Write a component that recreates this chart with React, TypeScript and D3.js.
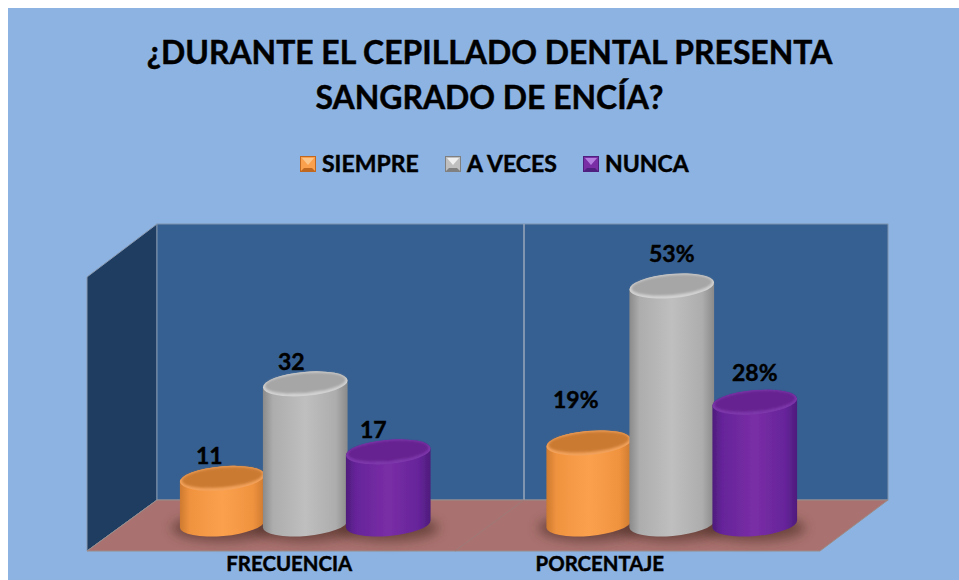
import React from "react";
import * as d3 from "d3";

const categories = ["FRECUENCIA", "PORCENTAJE"];
const seriesNames = ["SIEMPRE", "A VECES", "NUNCA"];
const siempre = [11, 19];
const aVeces = [32, 53];
const nunca = [17, 28];
const labelSuffix = ["", "%"];
const titleLines = ["¿DURANTE EL CEPILLADO DENTAL PRESENTA", "SANGRADO DE ENCÍA?"];

const font = "Lato, Carlito, Calibri, sans-serif";
const seriesValues = [siempre, aVeces, nunca];
const palettes = [
  { id: "o", edge: "#cd7a30", soft: "#f0933f", mid: "#fba14e", top: "#cb7a33", rim: "#f3a25c", light: "#fcc68a", dark: "#c0681f" },
  { id: "g", edge: "#8a8a8a", soft: "#adadad", mid: "#bfbfbf", top: "#a6a6a6", rim: "#d2d2d2", light: "#f0f0f0", dark: "#808080" },
  { id: "p", edge: "#4e1c7c", soft: "#66249a", mid: "#7a2ea6", top: "#662090", rim: "#7d38aa", light: "#b47ee0", dark: "#4f1f80" },
];
// label offsets from the top of each column, [dx, dy]
const labelNudge = [
  [[-13, -2], [-13, -23]],
  [[-14, -2], [0, -12]],
  [[-15, -2], [0, -9]],
];
const categoryLabelShift = [-16, -72];
const legendX = [300, 445, 583];

const W = 959, H = 580;
const x0 = d3.scaleBand<string>().domain(categories).range([122, 855]);
const x1 = d3.scaleBand<string>().domain(seriesNames).range([58.75, 58.75 + 249]);
const y = d3.scalePow().exponent(1.05).domain([0, 53]).range([524, 286]);

const RX = 42.5, RY = 12, TILT = -5;
const rad = (TILT * Math.PI) / 180;
const ex = RX * Math.cos(rad), ey = RX * Math.sin(rad);

function bodyPath(cx: number, top: number, base: number) {
  return `M${cx - ex},${top - ey} L${cx - ex},${base - ey} A${RX},${RY} ${TILT} 0 0 ${cx + ex},${base + ey} L${cx + ex},${top + ey} A${RX},${RY} ${TILT} 0 0 ${cx - ex},${top - ey} Z`;
}

const heavy = { stroke: "#000", strokeWidth: 0.45, paintOrder: "stroke" } as const;

export default function App() {
  const base = y(0) as number;
  const bw = x1.bandwidth();
  return (
    <svg width={W} height={H} style={{ position: "absolute", left: 0, top: 0 }} xmlns="http://www.w3.org/2000/svg">
      <defs>
        {palettes.map((p) => (
          <linearGradient key={p.id} id={`body-${p.id}`} x1="0" x2="1" y1="0" y2="0">
            <stop offset="0" stopColor={p.edge} />
            <stop offset="0.12" stopColor={p.soft} />
            <stop offset="0.5" stopColor={p.mid} />
            <stop offset="0.86" stopColor={p.soft} />
            <stop offset="1" stopColor={p.edge} />
          </linearGradient>
        ))}
        <filter id="shadow" x="-30%" y="-100%" width="160%" height="300%">
          <feGaussianBlur stdDeviation="6" />
        </filter>
        <filter id="soft" x="-5%" y="-5%" width="110%" height="110%">
          <feGaussianBlur stdDeviation="0.7" />
        </filter>
        <filter id="cap" x="-10%" y="-30%" width="120%" height="160%">
          <feGaussianBlur stdDeviation="1.2" />
        </filter>
      </defs>
      <rect x={8} y={8} width={W - 8} height={H - 8} fill="#8db3e2" />
      {titleLines.map((t, i) => (
        <text key={t} x={489.5} y={64 + i * 45} textAnchor="middle" fontFamily={font} fontWeight={700} fontSize={31.9} fill="#000" {...heavy}>
          {t}
        </text>
      ))}

      {seriesNames.map((name, i) => {
        const p = palettes[i];
        const sx = legendX[i], sy = 156, s = 16, b = 4;
        return (
          <g key={name}>
            <rect x={sx} y={sy} width={s} height={s} fill={p.mid} />
            <polygon points={`${sx + 2},${sy + 2} ${sx + s - 2},${sy + 2} ${sx + s / 2},${sy + s / 2 + 1}`} fill={p.light} />
            <polygon points={`${sx},${sy + s} ${sx + s},${sy + s} ${sx + s - b},${sy + s - b} ${sx + b},${sy + s - b}`} fill={p.dark} />
            <rect x={sx + 0.5} y={sy + 0.5} width={s - 1} height={s - 1} fill="none" stroke={p.dark} />
            <text x={sx + s + 6} y={172} fontFamily={font} fontWeight={700} fontSize={23} fill="#000" {...heavy}>
              {name}
            </text>
          </g>
        );
      })}

      {/* walls and floor */}
      <polygon points="87,277 157,224 157,500 87,551" fill="#1f3d61" stroke="#8b9bb0" strokeWidth={1} />
      <rect x={157} y={224} width={731} height={276} fill="#366092" stroke="#7f93ab" strokeWidth={1} />
      <line x1={524} x2={524} y1={224} y2={500} stroke="#9aa7b8" strokeWidth={1.5} />
      <polygon points="157,500 888,500 820,551 87,551" fill="#a97270" stroke="#9a8c88" strokeWidth={1} />
      <line x1={524} y1={500} x2={455} y2={551} stroke="#9d7a78" strokeWidth={1} />

      {/* shadows */}
      {categories.map((c) =>
        seriesNames.map((s) => {
          const cx = (x0(c) as number) + (x1(s) as number) + bw / 2;
          return <ellipse key={c + s} cx={cx} cy={base + 4} rx={RX + 8} ry={RY + 1} fill="#4a2a20" opacity={0.62} filter="url(#shadow)" />;
        })
      )}

      {/* columns */}
      {seriesNames.map((s, si) =>
        categories.map((c, ci) => {
          const p = palettes[si];
          const v = seriesValues[si][ci];
          const cx = (x0(c) as number) + (x1(s) as number) + bw / 2;
          const top = y(v) as number;
          return (
            <g key={c + s}>
              <g filter="url(#soft)">
                <path d={bodyPath(cx, top, base)} fill={`url(#body-${p.id})`} />
                <ellipse cx={cx} cy={top} rx={RX} ry={RY} transform={`rotate(${TILT} ${cx} ${top})`} fill={p.rim} />
              </g>
              <ellipse cx={cx} cy={top - 1} rx={RX - 2} ry={RY - 2} transform={`rotate(${TILT} ${cx} ${top - 1})`} fill={p.top} filter="url(#cap)" />
            </g>
          );
        })
      )}

      {/* value labels */}
      {seriesNames.map((s, si) =>
        categories.map((c, ci) => {
          const v = seriesValues[si][ci];
          const cx = (x0(c) as number) + (x1(s) as number) + bw / 2;
          const top = (y(v) as number) - RY;
          const [dx, dy] = labelNudge[si][ci];
          return (
            <text key={c + s} x={cx + dx} y={top + dy} textAnchor="middle" fontFamily={font} fontWeight={700} fontSize={23} fill="#000" {...heavy}>
              {v}
              {labelSuffix[ci]}
            </text>
          );
        })
      )}

      {/* category labels */}
      {categories.map((c, i) => (
        <text key={c} x={(x0(c) as number) + x0.bandwidth() / 2 + categoryLabelShift[i]} y={571} textAnchor="middle" fontFamily={font} fontWeight={700} fontSize={20.4} fill="#000" {...heavy}>
          {c}
        </text>
      ))}
    </svg>
  );
}
